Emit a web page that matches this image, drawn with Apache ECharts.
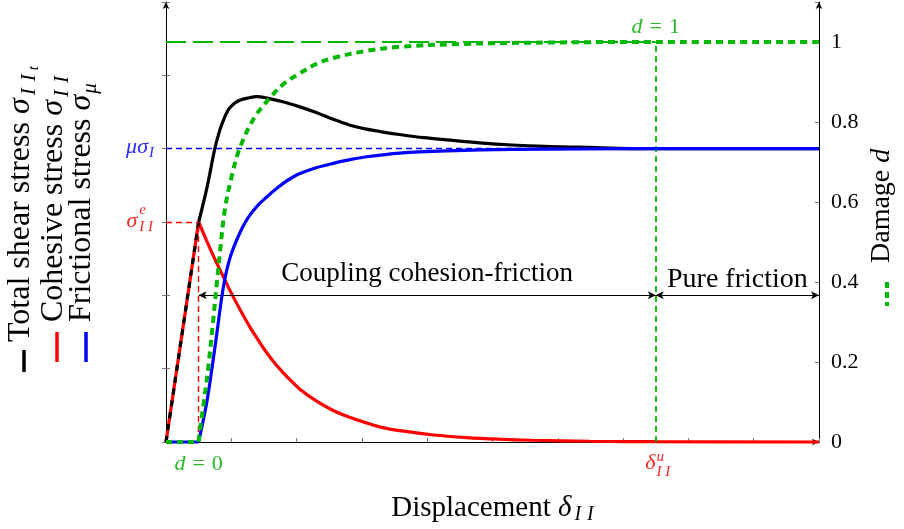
<!DOCTYPE html>
<html><head><meta charset="utf-8">
<script src="https://cdn.jsdelivr.net/npm/echarts@6/dist/echarts.min.js"></script>
<style>html,body{margin:0;padding:0;background:#fff}#c{width:904px;height:529px}</style>
</head><body><div id="c"></div>
<script>
// ---------------- data ----------------
// x: displacement (axis units 0..10), stresses in left-axis units (0..6), damage 0..1
const totalStress = [[0,0],[0.5,3.0],[0.63,3.48],[0.75,4.01],[0.83,4.27],[0.88,4.39],[0.93,4.49],[0.98,4.56],[1.05,4.62],[1.13,4.66],[1.25,4.69],[1.39,4.71],[1.55,4.69],[1.79,4.64],[2.05,4.57],[2.31,4.49],[2.56,4.40],[2.82,4.32],[3.05,4.27],[3.3,4.23],[3.6,4.19],[3.95,4.15],[4.3,4.12],[4.8,4.08],[5.3,4.05],[5.8,4.03],[6.3,4.02],[7.5,4.0],[8.5,4.0],[10,4.0]];
const cohesiveStress = [[0,0],[0.5,3.0],[0.62,2.75],[0.75,2.49],[0.88,2.25],[1.0,2.03],[1.15,1.78],[1.29,1.56],[1.42,1.38],[1.54,1.22],[1.67,1.07],[1.8,0.94],[1.92,0.83],[2.05,0.72],[2.3,0.56],[2.56,0.43],[2.8,0.34],[3.07,0.26],[3.3,0.2],[3.58,0.155],[4.1,0.095],[4.6,0.06],[5.1,0.038],[5.6,0.024],[6.5,0.01],[7.5,0.004],[10,0]];
const frictionalStress = [[0,0],[0.5,0],[0.56,0.25],[0.63,0.57],[0.7,0.98],[0.78,1.49],[0.85,1.95],[0.9,2.22],[0.96,2.45],[1.03,2.64],[1.13,2.85],[1.21,2.99],[1.29,3.1],[1.41,3.23],[1.54,3.34],[1.67,3.44],[1.8,3.53],[1.92,3.6],[2.05,3.66],[2.3,3.74],[2.56,3.8],[2.82,3.85],[3.07,3.89],[3.58,3.94],[4.3,3.97],[5.3,3.99],[7.5,4.0],[10,4.0]];
const damage = [[0,0],[0.5,0],[0.52,0.03],[0.58,0.1],[0.65,0.19],[0.72,0.3],[0.78,0.4],[0.83,0.48],[0.9,0.58],[1.0,0.66],[1.13,0.735],[1.35,0.81],[1.59,0.86],[1.8,0.895],[2.05,0.922],[2.3,0.945],[2.56,0.96],[3.07,0.978],[3.58,0.988],[4.5,0.995],[6,0.999],[7.5,1],[10,1]];
const damageTickLabels = [0, 0.2, 0.4, 0.6, 0.8, 1];
const DELTA_E = 0.5, DELTA_U = 7.5, X_MAX = 10;
const SIGMA_E = 3.0, MU_SIGMA_I = 4.0, ARROW_LEVEL = 2.0;
const legendTexts = ['Total shear stress ', 'Cohesive stress ', 'Frictional stress '];
const regionTexts = ['Coupling cohesion-friction', 'Pure friction'];
const xTitle = 'Displacement ';
const yRightTitle = 'Damage ';

// ---------------- styles ----------------
const BLACK = '#000000', RED = '#ff0000', BLUE = '#0000ff', GREEN = '#00b800';
const RED_T = '#ff2626', BLUE_T = '#2b2bff', GREEN_T = '#2cb82c';
const SERIF = '"Liberation Serif","Times New Roman",serif';
const LW = 3.2;

const chart = echarts.init(document.getElementById('c'), null, {renderer: 'canvas'});
const base = {type: 'line', symbol: 'none', silent: true, animation: false, clip: false, emphasis: {disabled: true}};
const mlBase = {silent: true, animation: false, label: {show: false}, emphasis: {disabled: true}};

const option = {
  animation: false,
  grid: {left: 166, right: 85, top: 2, bottom: 87},
  xAxis: {
    type: 'value', min: 0, max: X_MAX, interval: 1,
    axisLine: {onZero: false, lineStyle: {color: '#000', width: 1}, symbol: ['none', 'arrow'], symbolSize: [5, 7]},
    axisTick: {inside: true, length: 4, lineStyle: {color: '#777'}},
    axisLabel: {show: false}, splitLine: {show: false}
  },
  yAxis: [
    {type: 'value', position: 'left', min: 0, max: 6, interval: 1,
     axisLine: {show: true, onZero: false, lineStyle: {color: '#000', width: 1}, symbol: ['none', 'arrow'], symbolSize: [5, 7]},
     axisTick: {show: true, inside: false, length: 4, lineStyle: {color: '#777'}},
     axisLabel: {show: false}, splitLine: {show: false}},
    {type: 'value', position: 'right', min: 0, max: 1.1, interval: 0.2,
     axisLine: {show: true, onZero: false, lineStyle: {color: '#000', width: 1}, symbol: ['none', 'arrow'], symbolSize: [5, 7]},
     axisTick: {show: true, inside: true, length: 4, lineStyle: {color: '#777'}},
     axisLabel: {margin: 12, color: '#000', fontFamily: SERIF, fontSize: 22,
       formatter: v => damageTickLabels.some(t => Math.abs(t - v) < 1e-6) ? String(+v.toFixed(1)) : ''},
     splitLine: {show: false}},
    {type: 'value', position: 'left', min: 0, max: 6, interval: 1,
     axisLine: {show: false, onZero: false}, axisTick: {show: true, inside: true, length: 4, lineStyle: {color: '#777'}},
     axisLabel: {show: false}, splitLine: {show: false}}
  ],
  series: [
    {...base, data: [], xAxisIndex: 0, yAxisIndex: 0, z: 1, markLine: {...mlBase, symbol: ['none', 'none'], data: [
      [{coord: [0, MU_SIGMA_I], lineStyle: {color: BLUE, width: 1.4, type: [6, 4]}}, {coord: [X_MAX, MU_SIGMA_I]}],
      [{coord: [0, SIGMA_E], lineStyle: {color: RED, width: 1.4, type: [6, 4]}}, {coord: [DELTA_E, SIGMA_E]}],
      [{coord: [DELTA_E, 0], lineStyle: {color: RED, width: 1.4, type: [6, 4]}}, {coord: [DELTA_E, SIGMA_E]}]
    ]}},
    {...base, data: [], xAxisIndex: 0, yAxisIndex: 1, z: 1, markLine: {...mlBase, symbol: ['none', 'none'], data: [
      [{coord: [0, 1], lineStyle: {color: GREEN, width: 1.8, type: [20, 7]}}, {coord: [DELTA_U, 1]}],
      [{coord: [DELTA_U, 0], lineStyle: {color: GREEN, width: 1.8, type: [6, 4]}}, {coord: [DELTA_U, 1]}]
    ]}},
    {...base, data: [], xAxisIndex: 0, yAxisIndex: 0, z: 1, markLine: {...mlBase, symbol: ['arrow', 'arrow'], symbolSize: [6, 8],
      lineStyle: {color: BLACK, width: 1, type: 'solid'}, data: [
      [{coord: [DELTA_E, ARROW_LEVEL]}, {coord: [DELTA_U, ARROW_LEVEL]}],
      [{coord: [DELTA_U, ARROW_LEVEL]}, {coord: [X_MAX, ARROW_LEVEL]}]
    ]}},
    {...base, data: cohesiveStress.slice(0, 2), yAxisIndex: 0, z: 3, lineStyle: {color: RED, width: LW}},
    {...base, data: cohesiveStress.slice(1), yAxisIndex: 0, z: 3, smooth: 0.35, lineStyle: {color: RED, width: LW}},
    {...base, data: totalStress.slice(0, 2), yAxisIndex: 0, z: 4, lineStyle: {color: BLACK, width: LW, type: [6, 6]}},
    {...base, data: totalStress.slice(1), yAxisIndex: 0, z: 4, smooth: 0.35, lineStyle: {color: BLACK, width: LW}},
    {...base, data: frictionalStress.slice(0, 2), yAxisIndex: 0, z: 5, lineStyle: {color: BLUE, width: LW}},
    {...base, data: frictionalStress.slice(1), yAxisIndex: 0, z: 5, smooth: 0.35, lineStyle: {color: BLUE, width: LW}},
    {...base, data: damage.slice(0, 2), yAxisIndex: 1, z: 6, lineStyle: {color: GREEN, width: 4, type: [6, 5]}},
    {...base, data: damage.slice(1), yAxisIndex: 1, z: 6, smooth: 0.35, lineStyle: {color: GREEN, width: 4, type: [7, 5]}}
  ]
};
chart.setOption(option);

// ---------------- math-like text helper ----------------
const mctx = document.createElement('canvas').getContext('2d');
function fontStr(p) { return (p.it ? 'italic ' : '') + p.s + 'px ' + SERIF; }
function tw(f, t) { mctx.font = f; return mctx.measureText(t).width; }
function mathGroup(x, y, rot, parts, color, align) {
  let cx = 0, prevStart = 0;
  const children = [];
  parts.forEach(p => {
    const f = fontStr(p);
    const w = tw(f, p.t);
    const start = p.stack ? prevStart : cx + (p.gap || 0);
    children.push({type: 'text', x: start, y: p.dy || 0, silent: true,
      style: {text: p.t, font: f, fill: p.c || color, align: 'left', verticalAlign: 'middle', textAlign: 'left', textVerticalAlign: 'middle'}});
    prevStart = start;
    cx = Math.max(cx, start + w);
  });
  const off = align === 'center' ? -cx / 2 : align === 'right' ? -cx : 0;
  children.forEach(c => { c.x += off; });
  return {type: 'group', x: x, y: y, rotation: rot || 0, silent: true, children: children};
}
const px = (x, y) => chart.convertToPixel({xAxisIndex: 0, yAxisIndex: 0}, [x, y]);
const pd = (x, d) => chart.convertToPixel({xAxisIndex: 0, yAxisIndex: 1}, [x, d]);

const g = [];
let p = px(0, MU_SIGMA_I);
g.push(mathGroup(p[0] - 12, p[1] - 1, 0, [{t: 'μ', s: 22, it: 1}, {t: 'σ', s: 22, it: 1}, {t: 'I', s: 15, it: 1, dy: 5, gap: 1}], BLUE_T, 'right'));
p = px(0, SIGMA_E);
g.push(mathGroup(p[0] - 13, p[1] - 1, 0, [{t: 'σ', s: 22, it: 1}, {t: 'e', s: 15, it: 1, dy: -11, gap: 2}, {t: 'I I', s: 15, it: 1, dy: 6, stack: 1}], RED_T, 'right'));
p = px(DELTA_E, 0);
g.push(mathGroup(p[0], p[1] + 22, 0, [{t: 'd', s: 22, it: 1}, {t: '=', s: 22, gap: 7}, {t: '0', s: 22, gap: 7}], GREEN_T, 'center'));
p = pd(DELTA_U, 1);
g.push(mathGroup(p[0], p[1] - 15, 0, [{t: 'd', s: 22, it: 1}, {t: '=', s: 22, gap: 7}, {t: '1', s: 22, gap: 7}], GREEN_T, 'center'));
p = px(DELTA_U, 0);
g.push(mathGroup(p[0] + 2, p[1] + 21, 0, [{t: 'δ', s: 22, it: 1}, {t: 'u', s: 15, it: 1, dy: -6, gap: 1}, {t: 'I I', s: 15, it: 1, dy: 9, stack: 1}], RED_T, 'center'));
p = px((DELTA_E + DELTA_U) / 2, ARROW_LEVEL);
g.push(mathGroup(p[0], p[1] - 21, 0, [{t: regionTexts[0], s: 27}], BLACK, 'center'));
p = px((DELTA_U + X_MAX) / 2, ARROW_LEVEL);
g.push(mathGroup(p[0], p[1] - 16, 0, [{t: regionTexts[1], s: 28}], BLACK, 'center'));
const gl = px(X_MAX / 2, 0);
g.push(mathGroup(gl[0], 508, 0, [{t: xTitle, s: 29}, {t: 'δ', s: 29, it: 1}, {t: 'I', s: 20, it: 1, dy: 7, gap: 3}, {t: 'I', s: 20, it: 1, dy: 7, gap: 6}], BLACK, 'center'));
g.push(mathGroup(882, 263, Math.PI / 2, [{t: yRightTitle, s: 28}, {t: 'd', s: 28, it: 1}], BLACK, 'left'));
g.push(mathGroup(21, 342, Math.PI / 2, [{t: legendTexts[0], s: 32}, {t: 'σ', s: 32, it: 1}, {t: 'I', s: 21, it: 1, dy: 8, gap: 3}, {t: 'I', s: 21, it: 1, dy: 8, gap: 7}, {t: 't', s: 15, it: 1, dy: 13, gap: 4}], BLACK, 'left'));
g.push(mathGroup(54, 322, Math.PI / 2, [{t: legendTexts[1], s: 32}, {t: 'σ', s: 32, it: 1}, {t: 'I', s: 21, it: 1, dy: 8, gap: 3}, {t: 'I', s: 21, it: 1, dy: 8, gap: 7}], BLACK, 'left'));
g.push(mathGroup(82, 322, Math.PI / 2, [{t: legendTexts[2], s: 32}, {t: 'σ', s: 32, it: 1}, {t: 'μ', s: 21, it: 1, dy: 8, gap: 1}], BLACK, 'left'));
g.push({type: 'line', silent: true, shape: {x1: 24, y1: 350, x2: 24, y2: 372}, style: {stroke: BLACK, lineWidth: 3.5}});
g.push({type: 'line', silent: true, shape: {x1: 57, y1: 332, x2: 57, y2: 362}, style: {stroke: RED, lineWidth: 3.5}});
g.push({type: 'line', silent: true, shape: {x1: 86, y1: 332, x2: 86, y2: 362}, style: {stroke: BLUE, lineWidth: 3.5}});
g.push({type: 'line', silent: true, shape: {x1: 887, y1: 282, x2: 887, y2: 306}, style: {stroke: GREEN, lineWidth: 4, lineDash: [6, 4]}});

chart.setOption({graphic: {elements: g}});
</script>
</body></html>
